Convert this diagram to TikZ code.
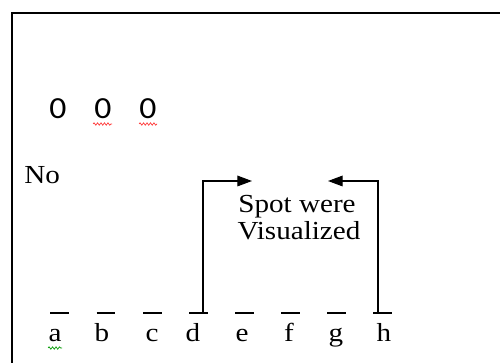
\documentclass[tikz,border=0pt]{standalone}
\usepackage{fontspec}
\setmainfont{Liberation Serif}[FakeStretch=1.12]
\newfontfamily\digitfont{Carlito}[FakeStretch=1.1]
\usetikzlibrary{arrows.meta,decorations.pathmorphing}
\tikzset{
  lbl/.style={font=\fontsize{19.5}{21}\selectfont, inner sep=0pt, anchor=base},
  zero/.style={font=\digitfont\fontsize{23}{25}\selectfont, inner sep=0pt, anchor=base},
  bar/.style={line width=1.6pt},
  conn/.style={line width=0.9pt, -{Triangle[length=11pt,width=8pt]}},
  squig/.style={line width=0.5pt, decorate, decoration={snake, amplitude=0.9pt, segment length=2.6pt}},
}
\begin{document}
\begin{tikzpicture}[x=0.75pt,y=-0.75pt]
\useasboundingbox (0,0) rectangle (500,363);
\clip (0,0) rectangle (500,363);
\draw[line width=1.8pt] (12,13) rectangle (520,380);
% zeros
\node[zero] (z1) at (58,119) {0};
\node[zero] (z2) at (103,119) {0};
\node[zero] (z3) at (148,119) {0};
\draw[squig, red!80] (93,124) -- (112,124);
\draw[squig, red!80] (139,124) -- (157,124);
% No
\node[lbl, anchor=base west] (no) at (24,184) {No};
% text
\node[lbl] (t1) at (297,213) {Spot were};
\node[lbl] (t2) at (299,240) {Visualized};
% letters
\foreach \n/\x in {a/55,b/102,c/152,d/193,e/242,f/289,g/336,h/384}{
  \node[lbl] (l\n) at (\x,342) {\n};
}
\draw[squig, green!60!black] (48,348) -- (62,348);
% bars
\foreach \n/\x in {a/59.5,b/106,c/152.5,d/198.5,e/244.5,f/290.5,g/336.5,h/382.5}{
  \coordinate (b\n) at (\x,313);
  \draw[bar] ([xshift=-7pt]b\n) -- ([xshift=7pt]b\n);
}
\coordinate (dtip) at (252,181);
\coordinate (htip) at (328,181);
\draw[conn] ([xshift=3.4pt]bd) |- (dtip);
\draw[conn] ([xshift=-3.4pt]bh) |- (htip);
\end{tikzpicture}
\end{document}
